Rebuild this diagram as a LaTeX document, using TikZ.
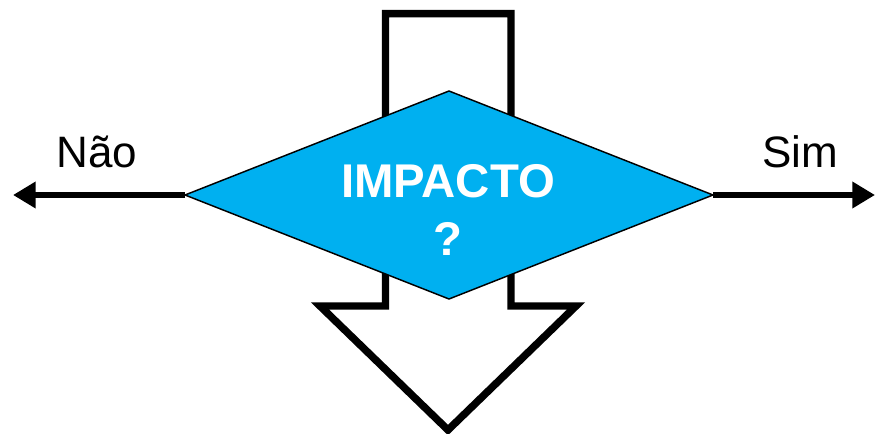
\documentclass[tikz,border=0pt]{standalone}
\usepackage{fontspec}
\setmainfont{Liberation Sans}
\usepackage{tkz-euclide}
\usetikzlibrary{calc}
\usetikzlibrary{arrows.meta}
\usetikzlibrary{shapes.geometric}
\definecolor{impactblue}{HTML}{00B0F0}

\begin{document}
\begin{tikzpicture}[x=0.75pt,y=0.75pt,
                decision/.style={diamond,draw=black,line width=1.1pt,fill=impactblue,
                    minimum width=396pt,minimum height=156pt,inner sep=0pt,outer sep=0pt},
                impact/.style={text=white,font=\bfseries\fontsize{35.5}{42}\selectfont,inner sep=0pt},
                answer/.style={font=\fontsize{33}{40}\selectfont,inner sep=0pt},
                conn/.style={line width=4.5pt,-{Triangle[length=17pt,width=19pt]}},
                bigarrow/.style={line width=5.6pt,line join=miter,draw=black,fill=white}]
                \useasboundingbox (0,0) rectangle (876,433);

                \tkzDefPoint(385.5,419.3){T1}
                \tkzDefPoint(511,419.3){T2}
                \tkzDefPoint(511,127){S2}
                \tkzDefPoint(576,127){H2}
                \tkzDefPoint(448,3){Tip}
                \tkzDefPoint(320,127){H1}
                \tkzDefPoint(385.5,127){S1}

                \tkzDrawPolygon[bigarrow](T1,T2,S2,H2,Tip,H1,S1)

                \node[decision] (dia) at (449,238) {};

                \tkzDefPoint(13,238){N}
                \tkzDefPoint(875,238){S}

                \draw[conn] (dia.west) -- (N);
                \draw[conn] (dia.east) -- (S);

                \node[answer,anchor=base] (nao) at (97,266) {Não};
                \node[answer,anchor=base] (sim) at (800,266) {Sim};

                \node[impact,anchor=base] (imp) at (448,235) {IMPACTO};
                \node[impact,anchor=base] (qm) at (448,177) {?};
            \end{tikzpicture}
\end{document}
